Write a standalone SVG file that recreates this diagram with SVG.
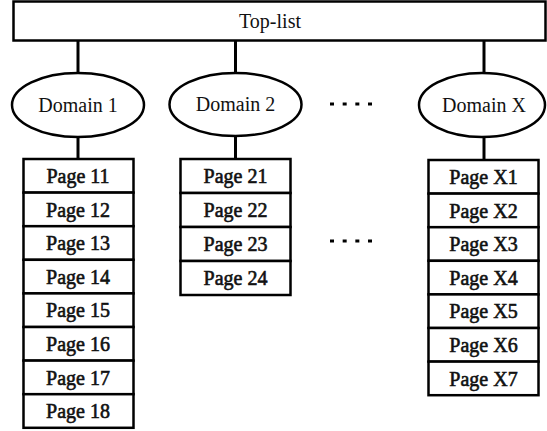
<svg xmlns="http://www.w3.org/2000/svg" width="547" height="431" viewBox="0 0 547 431">
<style>
  rect, ellipse { fill: #fff; stroke: #000; stroke-width: 2.5; }
  .c line { stroke: #000; stroke-width: 3; }
  text { font-family: "Liberation Serif", "Times New Roman", serif; font-size: 20px; fill: #111; text-anchor: middle; }
  .pg { stroke: #111; stroke-width: 0.6; }
  .dots { stroke: #000; stroke-width: 3; stroke-dasharray: 4 8.67; }
</style>
<g class="c" id="connectors">
  <line x1="78" y1="40" x2="78" y2="73"/>
  <line x1="235.5" y1="40" x2="235.5" y2="73"/>
  <line x1="484" y1="40" x2="484" y2="73"/>
  <line x1="78" y1="137" x2="78" y2="159"/>
  <line x1="235.5" y1="136" x2="235.5" y2="159"/>
  <line x1="484" y1="137" x2="484" y2="160"/>
</g>
<g id="toplist">
  <rect x="13.5" y="1.5" width="532" height="39"/>
  <text x="270" y="28">Top-list</text>
</g>
<g id="domain1">
  <ellipse cx="78" cy="105" rx="66" ry="32"/>
  <text x="78" y="112">Domain 1</text>
</g>
<g id="domain2">
  <ellipse cx="235.5" cy="104.5" rx="66" ry="31.5"/>
  <text x="235.5" y="111">Domain 2</text>
</g>
<g id="domainX">
  <ellipse cx="482" cy="105" rx="63" ry="32"/>
  <text x="484" y="112">Domain X</text>
</g>
<g id="dots">
  <line class="dots" x1="330" y1="104" x2="372" y2="104"/>
  <line class="dots" x1="330" y1="241" x2="372" y2="241"/>
</g>
<g id="pages1">
  <rect x="23.5" y="159" width="110" height="33.6"/><text class="pg" x="78" y="183">Page 11</text>
  <rect x="23.5" y="192.6" width="110" height="33.6"/><text class="pg" x="78" y="216.6">Page 12</text>
  <rect x="23.5" y="226.2" width="110" height="33.6"/><text class="pg" x="78" y="250.2">Page 13</text>
  <rect x="23.5" y="259.8" width="110" height="33.6"/><text class="pg" x="78" y="283.8">Page 14</text>
  <rect x="23.5" y="293.4" width="110" height="33.6"/><text class="pg" x="78" y="317.4">Page 15</text>
  <rect x="23.5" y="327" width="110" height="33.6"/><text class="pg" x="78" y="351">Page 16</text>
  <rect x="23.5" y="360.6" width="110" height="33.6"/><text class="pg" x="78" y="384.6">Page 17</text>
  <rect x="23.5" y="394.2" width="110" height="33.6"/><text class="pg" x="78" y="418.2">Page 18</text>
</g>
<g id="pages2">
  <rect x="180.5" y="159" width="110" height="34"/><text class="pg" x="235.5" y="183">Page 21</text>
  <rect x="180.5" y="193" width="110" height="34"/><text class="pg" x="235.5" y="217">Page 22</text>
  <rect x="180.5" y="227" width="110" height="34"/><text class="pg" x="235.5" y="251">Page 23</text>
  <rect x="180.5" y="261" width="110" height="34"/><text class="pg" x="235.5" y="285">Page 24</text>
</g>
<g id="pagesX">
  <rect x="428.5" y="160" width="110" height="33.6"/><text class="pg" x="483.5" y="184">Page X1</text>
  <rect x="428.5" y="193.6" width="110" height="33.6"/><text class="pg" x="483.5" y="217.6">Page X2</text>
  <rect x="428.5" y="227.2" width="110" height="33.6"/><text class="pg" x="483.5" y="251.2">Page X3</text>
  <rect x="428.5" y="260.8" width="110" height="33.6"/><text class="pg" x="483.5" y="284.8">Page X4</text>
  <rect x="428.5" y="294.4" width="110" height="33.6"/><text class="pg" x="483.5" y="318.4">Page X5</text>
  <rect x="428.5" y="328" width="110" height="33.6"/><text class="pg" x="483.5" y="352">Page X6</text>
  <rect x="428.5" y="361.6" width="110" height="33.6"/><text class="pg" x="483.5" y="385.6">Page X7</text>
</g>
</svg>
